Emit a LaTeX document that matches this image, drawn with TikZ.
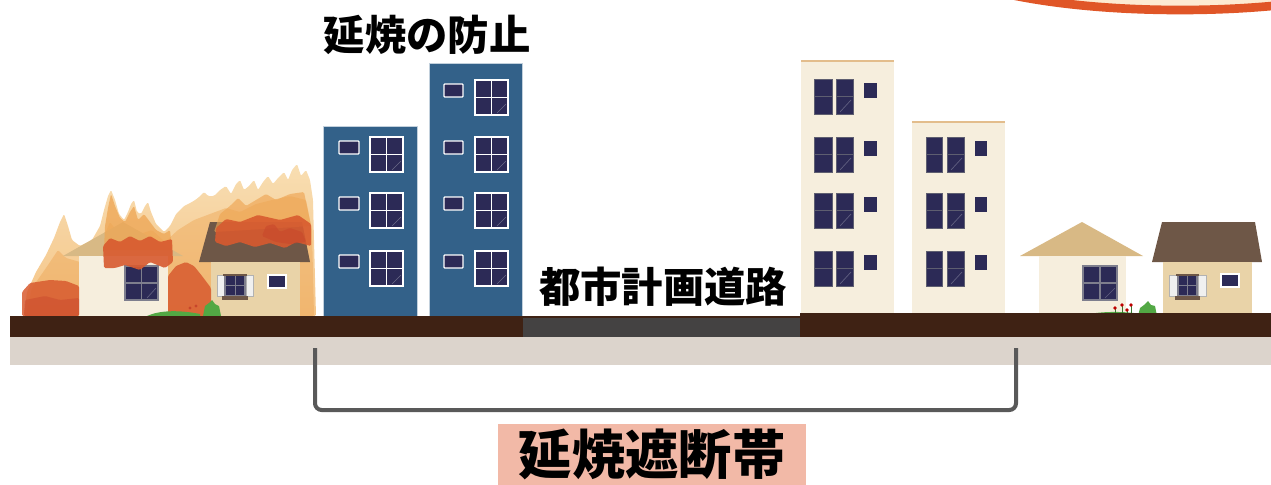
\documentclass[tikz,border=0pt]{standalone}
\usepackage{fontspec}
\newfontfamily\cjk{Noto Sans CJK JP}
\definecolor{soil}{HTML}{3F2214}
\definecolor{pavement}{HTML}{DCD4CC}
\definecolor{asphalt}{HTML}{444242}
\definecolor{bluewall}{HTML}{336189}
\definecolor{creamwall}{HTML}{F6EEDD}
\definecolor{creamtop}{HTML}{E3BD8C}
\definecolor{glass}{HTML}{2C2A56}
\definecolor{frame}{HTML}{5E5E70}
\definecolor{tanroof}{HTML}{D8B985}
\definecolor{brownroof}{HTML}{6E5747}
\definecolor{beigewall}{HTML}{E9D3A8}
\definecolor{flametop}{HTML}{F8DCAE}
\definecolor{flamepale}{HTML}{F4C180}
\definecolor{flamemid}{HTML}{EEA553}
\definecolor{flamered}{HTML}{D85A2F}
\definecolor{flamedeep}{HTML}{C8452B}
\definecolor{leaf}{HTML}{52A844}
\definecolor{bracketgrey}{HTML}{595959}
\definecolor{labelpink}{HTML}{F2B9A7}
\definecolor{bubbleline}{HTML}{E05627}
\definecolor{bubblefill}{HTML}{FDEBD2}
\tikzset{
  bigpane/.style={fill=glass, draw=white, line width=1.2pt},
  smallpane/.style={fill=glass, draw=white, line width=1pt, rounded corners=0.6pt},
  tallpane/.style={fill=glass, draw=frame, line width=0.6pt},
  housepane/.style={fill=glass, draw=frame!80, line width=0.8pt},
  shutter/.style={fill=white!94!black, draw=gray!60, line width=0.4pt},
  flamepatch/.style={rounded corners=1},
  cjktext/.style={font=\cjk\bfseries, text=black, inner sep=0pt},
}
\begin{document}
\begin{tikzpicture}[x=0.75pt,y=-0.75pt]
\useasboundingbox (0,0) rectangle (1271,485);

% speech bubble edge in the top right corner
\begin{scope}
  \clip (0,0) rectangle (1271,485);
  \draw[fill=bubblefill, draw=bubbleline, line width=6.5pt] (1180,-50) ellipse [x radius=255, y radius=60];
\end{scope}

% flames behind the burning houses
\shade[flamepatch, top color=flametop, bottom color=flamepale, opacity=0.95]
  (24,316) -- (27,292) -- (36,272) -- (46,255) -- (54,238) -- (60,222) -- (64,214) -- (68,226)
  -- (72,240) -- (80,246) -- (92,240) -- (100,226) -- (104,210) -- (108,196) -- (111,190)
  -- (115,200) -- (119,214) -- (124,220) -- (128,212) -- (131,204) -- (134,200) -- (137,212)
  -- (141,214) -- (145,206) -- (148,202) -- (151,212) -- (156,224) -- (164,232) -- (170,226)
  -- (176,214) -- (184,206) -- (192,202) -- (198,198) -- (204,192) -- (208,196) -- (214,196)
  -- (220,190) -- (226,186) -- (231,194) -- (236,184) -- (240,180) -- (244,190) -- (249,186)
  -- (254,180) -- (258,190) -- (263,182) -- (268,176) -- (273,184) -- (278,178) -- (284,172)
  -- (288,180) -- (292,170) -- (297,164) -- (301,176) -- (306,170) -- (310,180) -- (313,200)
  -- (314,240) -- (316,316) -- cycle;
\fill[flamemid, opacity=0.45, flamepatch]
  (26,316) -- (32,288) -- (46,268) -- (58,250) -- (66,258) -- (80,262) -- (96,252) -- (104,236)
  -- (110,222) -- (116,230) -- (130,226) -- (140,234) -- (152,230) -- (165,242) -- (178,230)
  -- (194,220) -- (210,214) -- (226,208) -- (240,212) -- (256,204) -- (272,200) -- (290,196)
  -- (306,200) -- (312,230) -- (314,316) -- cycle;

% burning house on the far left
\fill[tanroof] (63,256) -- (123,222) -- (183,256) -- cycle;
\fill[creamwall] (79,256) rectangle (168,316);
\draw[housepane] (125,266) rectangle (158,300);
\draw[frame!80, line width=0.8pt] (141.5,266) -- (141.5,300) (125,283) -- (158,283);
\draw[white, opacity=0.25, line width=0.5pt] (147,298) -- (156,288);

% burning house with shutters
\fill[brownroof] (210,222) -- (302,222) -- (310,262) -- (199,262) -- cycle;
\fill[beigewall] (211,262) rectangle (300,316);
\draw[shutter] (217,275) rectangle (224,296);
\draw[shutter] (246,275) rectangle (253,296);
\draw[housepane] (225,275) rectangle (245,296);
\draw[frame!80, line width=0.6pt] (235,275) -- (235,296) (225,285.5) -- (245,285.5);
\fill[brownroof] (223,274) rectangle (247,276);
\fill[brownroof] (222,296) rectangle (248,299.5);
\draw[fill=glass, draw=white, line width=0.9pt] (268,275) rectangle (286,288);

% red flames over the roofs and between the houses
\fill[flamered, opacity=0.85, flamepatch]
  (22,316) -- (22,292) -- (30,283) -- (50,280) -- (66,281) -- (79,286) -- (79,316) -- cycle;
\fill[flamedeep, opacity=0.45, flamepatch]
  (24,316) -- (25,300) -- (45,296) -- (60,300) -- (79,298) -- (79,316) -- cycle;
\fill[flamered, opacity=0.85, flamepatch]
  (168,316) -- (168,276) -- (176,266) -- (186,262) -- (194,266) -- (202,276) -- (211,288) -- (211,316) -- cycle;
\fill[flamemid, opacity=0.75, flamepatch]
  (104,250) -- (105,226) -- (108,208) -- (111,194) -- (115,206) -- (120,218) -- (125,222)
  -- (130,212) -- (134,206) -- (138,220) -- (144,214) -- (150,222) -- (156,230) -- (164,234)
  -- (170,230) -- (172,250) -- cycle;
\fill[flamered, opacity=0.9, flamepatch]
  (104,268) -- (103,246) -- (110,238) -- (120,242) -- (130,236) -- (140,241) -- (150,236)
  -- (160,242) -- (172,239) -- (173,262) -- (165,268) -- (150,262) -- (140,270) -- (125,265)
  -- (115,268) -- cycle;
\fill[flamemid, opacity=0.65, flamepatch]
  (214,232) -- (220,214) -- (230,206) -- (238,198) -- (246,206) -- (256,200) -- (266,194)
  -- (276,200) -- (290,194) -- (304,192) -- (311,226) -- cycle;
\fill[flamered, opacity=0.9, flamepatch]
  (215,242) -- (216,228) -- (226,219) -- (240,222) -- (258,215) -- (280,220) -- (298,215)
  -- (311,224) -- (311,246) -- (296,242) -- (285,248) -- (270,243) -- (255,247) -- (240,242)
  -- (226,246) -- cycle;
\fill[flamedeep, opacity=0.55, flamepatch]
  (262,236) -- (266,226) -- (274,224) -- (280,232) -- (290,228) -- (302,232) -- (306,242)
  -- (290,244) -- (276,242) -- cycle;

% shrubs beside the burning houses
\fill[leaf] (147,316) .. controls (160,310) and (180,310) .. (200,314) -- (200,316) -- cycle;
\fill[leaf] (203,316) -- (205,306) -- (209,303) -- (212,300) -- (215,304) -- (219,306) -- (221,316) -- cycle;
\fill[flamedeep] (190,308) circle [radius=1.6] (196,306) circle [radius=1.6];

% blue apartment blocks
\fill[bluewall] (323,126) rectangle (417,316);
\fill[bluewall] (429,63) rectangle (522,316);
\draw[white!70!bluewall, line width=0.6pt] (323,316) -- (323,126) -- (417,126) -- (417,316);
\draw[white!70!bluewall, line width=0.6pt] (429,316) -- (429,63) -- (522,63) -- (522,316);
\foreach \r in {137,193,251} {
  \draw[smallpane] (339,\r+4) rectangle (359,\r+17);
  \draw[bigpane] (370,\r) rectangle (403,\r+35);
  \draw[white, line width=1.2pt] (386.5,\r) -- (386.5,\r+35) (370,\r+17.5) -- (403,\r+17.5);
  \draw[white, opacity=0.3, line width=0.5pt] (392,\r+33) -- (401,\r+24);
}
\foreach \r in {80,137,193,251} {
  \draw[smallpane] (444,\r+4) rectangle (463,\r+17);
  \draw[bigpane] (475,\r) rectangle (508,\r+35);
  \draw[white, line width=1.2pt] (491.5,\r) -- (491.5,\r+35) (475,\r+17.5) -- (508,\r+17.5);
  \draw[white, opacity=0.3, line width=0.5pt] (497,\r+33) -- (506,\r+24);
}

% cream apartment blocks
\fill[creamwall] (801,61) rectangle (894,316);
\fill[creamwall] (912,122) rectangle (1005,316);
\draw[creamtop, line width=2pt] (801,61) -- (894,61);
\draw[creamtop, line width=2pt] (912,122) -- (1005,122);
\foreach \r in {79,137,193,251} {
  \draw[tallpane] (814,\r) rectangle (832,\r+35);
  \draw[tallpane] (836,\r) rectangle (853,\r+35);
  \draw[frame, line width=0.6pt] (814,\r+17.5) -- (832,\r+17.5) (836,\r+17.5) -- (853,\r+17.5);
  \draw[white, opacity=0.25, line width=0.5pt] (840,\r+33) -- (851,\r+21);
  \fill[glass] (864,\r+4) rectangle (877,\r+19);
}
\foreach \r in {137,193,251} {
  \draw[tallpane] (926,\r) rectangle (942,\r+35);
  \draw[tallpane] (947,\r) rectangle (964,\r+35);
  \draw[frame, line width=0.6pt] (926,\r+17.5) -- (942,\r+17.5) (947,\r+17.5) -- (964,\r+17.5);
  \draw[white, opacity=0.25, line width=0.5pt] (951,\r+33) -- (962,\r+21);
  \fill[glass] (975,\r+4) rectangle (987,\r+19);
}

% houses on the right
\fill[tanroof] (1020,256) -- (1082,222) -- (1143,256) -- cycle;
\fill[creamwall] (1039,256) rectangle (1126,316);
\draw[housepane] (1083,266) rectangle (1117,300);
\draw[frame!80, line width=0.8pt] (1100,266) -- (1100,300) (1083,283) -- (1117,283);
\draw[white, opacity=0.25, line width=0.5pt] (1105,298) -- (1115,288);

\fill[brownroof] (1162,222) -- (1255,222) -- (1262,262) -- (1152,262) -- cycle;
\fill[beigewall] (1163,262) rectangle (1252,316);
\draw[shutter] (1169,275) rectangle (1177,296);
\draw[shutter] (1198,275) rectangle (1206,296);
\draw[housepane] (1178,275) rectangle (1197,296);
\draw[frame!80, line width=0.6pt] (1187.5,275) -- (1187.5,296) (1178,285.5) -- (1197,285.5);
\fill[brownroof] (1176,274) rectangle (1199,276);
\fill[brownroof] (1175,296) rectangle (1200,299.5);
\draw[fill=glass, draw=white, line width=0.9pt] (1221,274) rectangle (1239,287);

% flower bed and shrub
\fill[leaf] (1083,316) .. controls (1095,311) and (1125,311) .. (1140,314) -- (1140,316) -- cycle;
\fill[leaf] (1138,316) -- (1140,308) -- (1144,305) -- (1148,301) -- (1151,305) -- (1155,306) -- (1157,316) -- cycle;
\foreach \fx/\fy in {1115/308, 1122/305, 1127/310, 1131/305} {
  \draw[leaf!70!black, line width=0.5pt] (\fx,\fy) -- (\fx,314);
  \fill[red!75!black] (\fx,\fy) circle [radius=1.8];
}

% ground, road and pavement
\fill[soil] (10,316) rectangle (1271,337);
\fill[soil] (800,313) rectangle (1271,337);
\fill[asphalt] (523,318) rectangle (800,337);
\fill[pavement] (10,337) rectangle (1271,365);

% labels
\node[cjktext, font=\cjk\bfseries\fontsize{31pt}{31pt}\selectfont] (prevent) at (427,35) {延焼の防止};
\node[cjktext, font=\cjk\bfseries\fontsize{31pt}{31pt}\selectfont] (road) at (663,287) {都市計画道路};
\node[fill=labelpink, minimum width=231pt, minimum height=46pt, inner sep=0pt,
      font=\cjk\bfseries\fontsize{40pt}{40pt}\selectfont] (zone) at (652,454.5) {延焼遮断帯};

% bracket spanning the fire break
\coordinate (bracketL) at (315,348);
\coordinate (bracketR) at (1016,348);
\draw[bracketgrey, line width=3pt, rounded corners=5pt]
  (bracketL) -- ([yshift=-46.5pt]bracketL) -- ([yshift=-46.5pt]bracketR) -- (bracketR);
\end{tikzpicture}
\end{document}
